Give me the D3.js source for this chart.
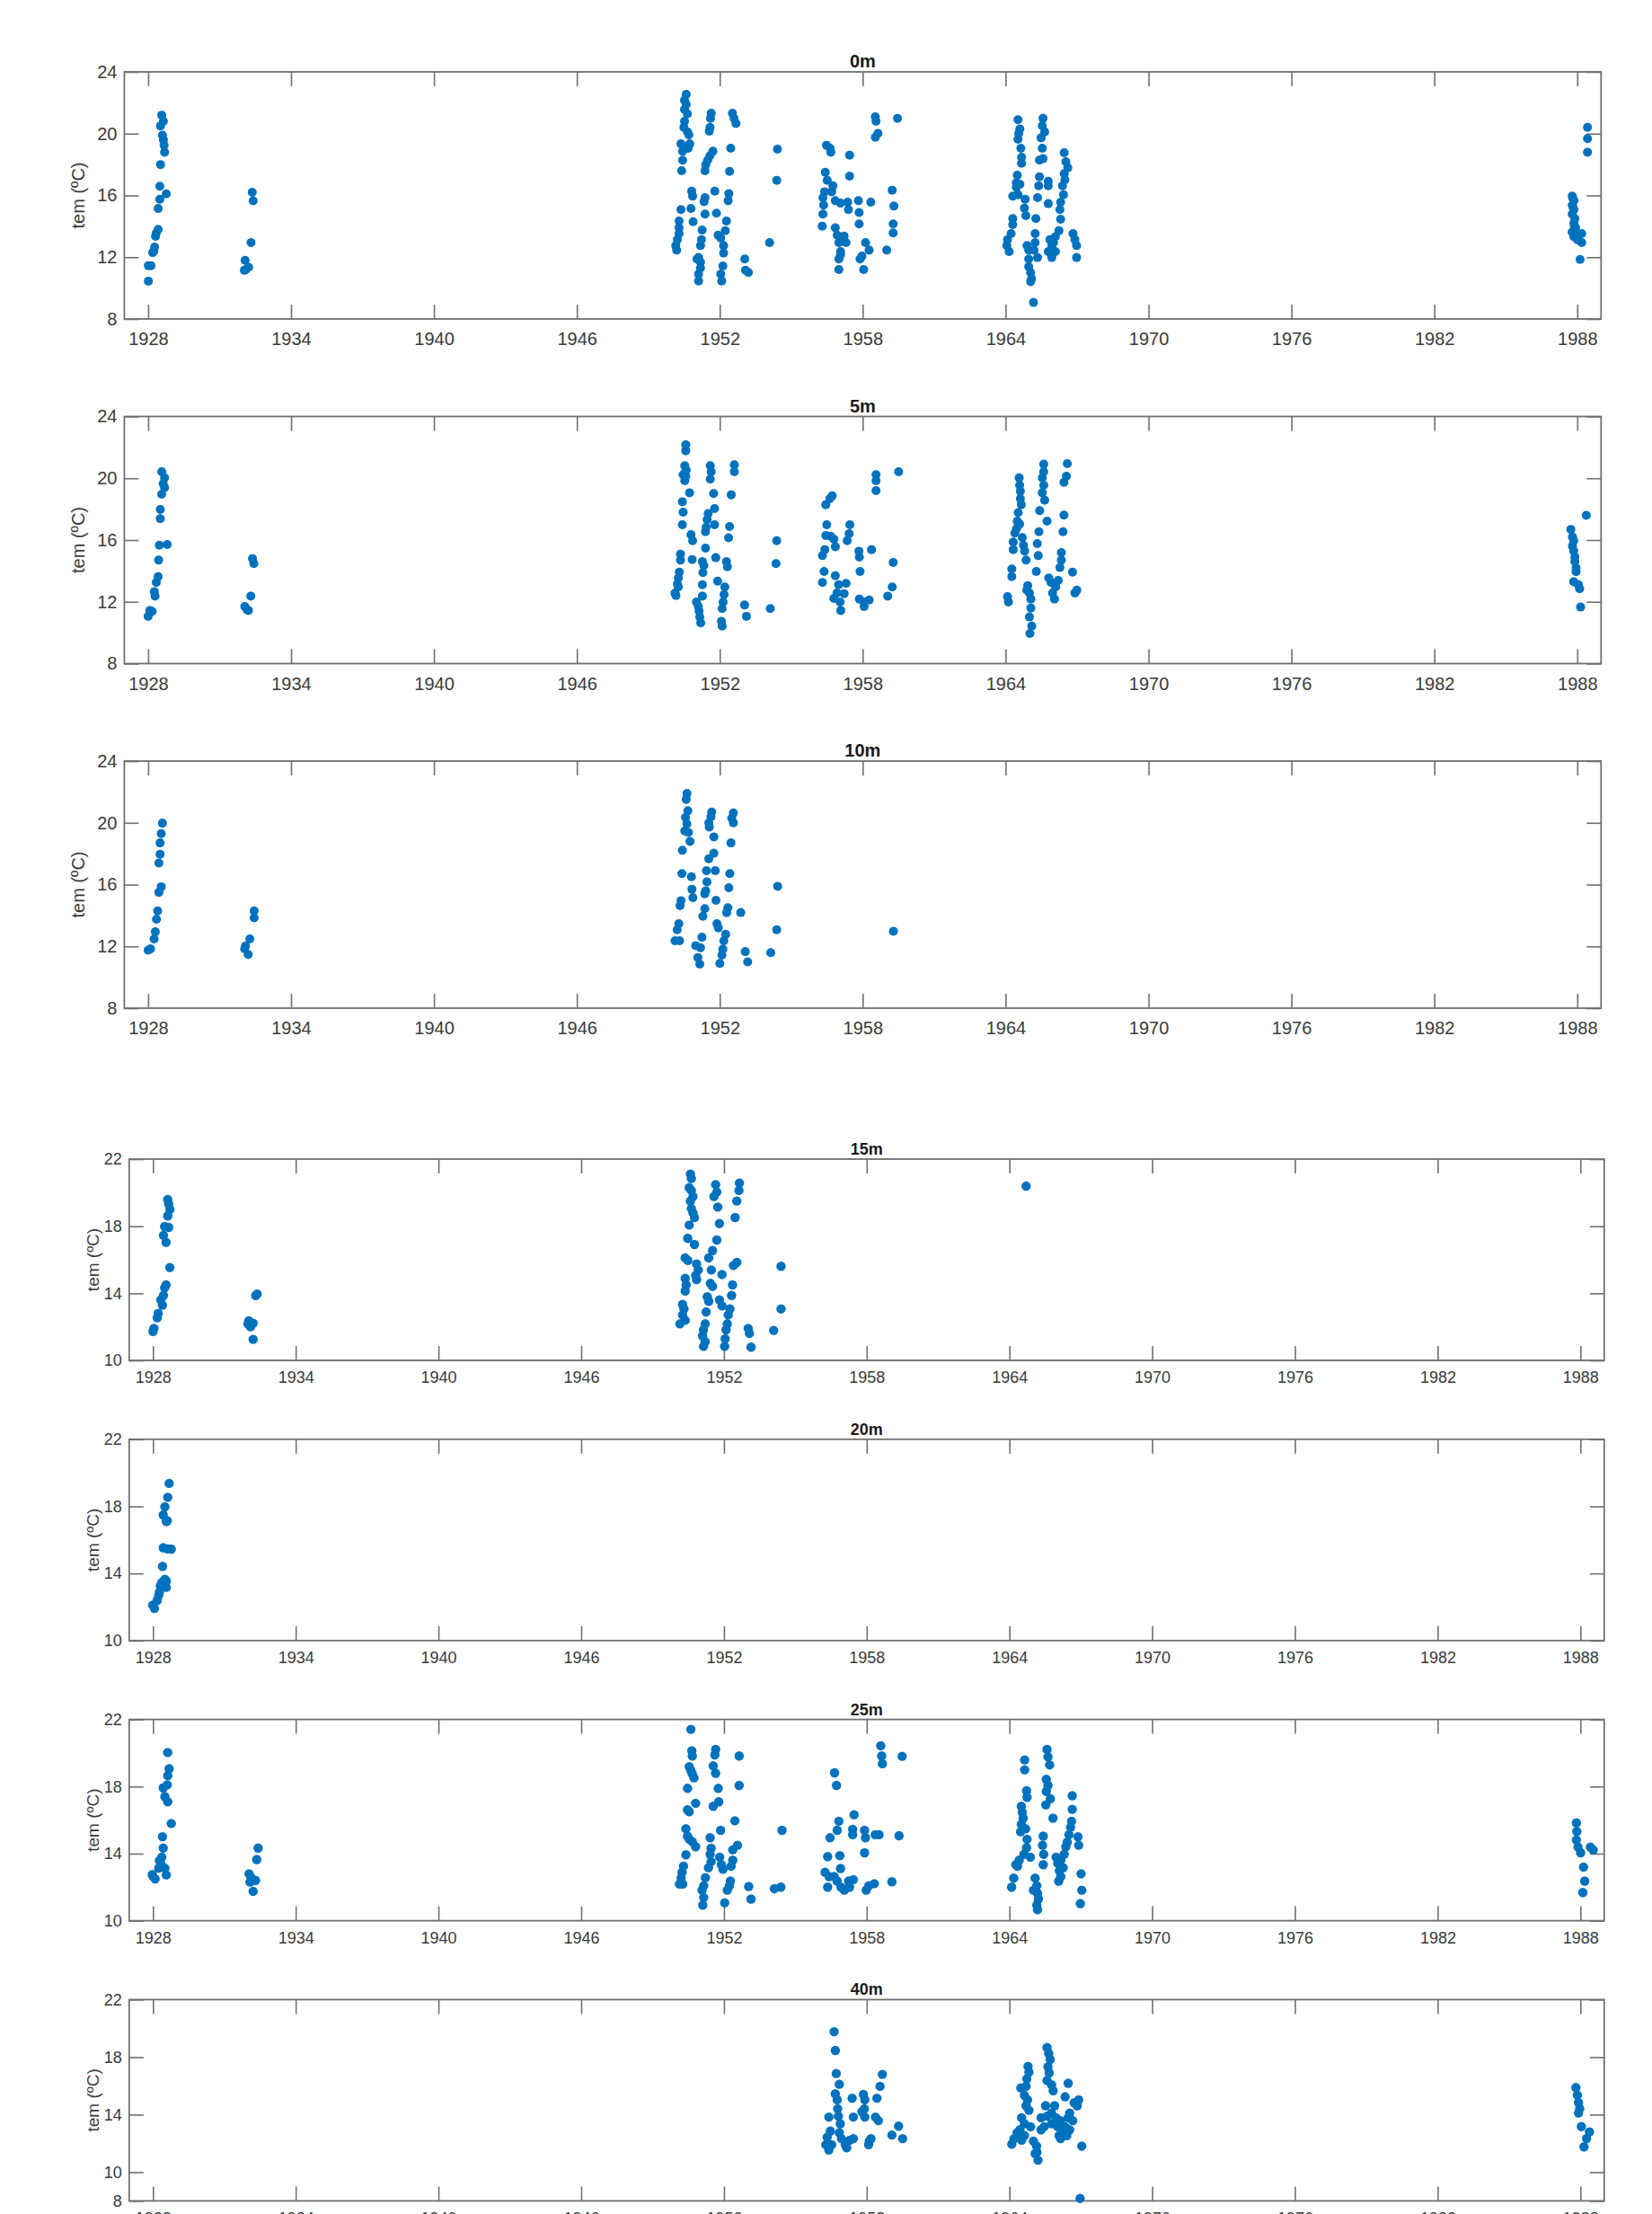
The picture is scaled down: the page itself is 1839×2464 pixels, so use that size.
<!DOCTYPE html>
<html>
<head>
<meta charset="utf-8">
<script src="https://cdn.jsdelivr.net/npm/d3@7"></script>
<style>
  body { margin: 0; background: #fff; }
  svg { display: block; }
</style>
</head>
<body>
<svg id="chart" width="1839" height="2464"></svg>
<script>
// tick labels
var yearTicks = [1928, 1934, 1940, 1946, 1952, 1958, 1964, 1970, 1976, 1982, 1988];
var yearRange = [1927, 1989];
var tempTicksUpper = [8, 12, 16, 20, 24];
var tempTicksLower = [10, 14, 18, 22];
var tempTicksDeep = [8, 10, 14, 18, 22];
var depths = ['0m', '5m', '10m', '15m', '20m', '25m', '40m'];

// [year, temperature] samples per depth
var t0m = [
  [1928.57,21.2],[1928.64,20.8],[1928.52,20.5],[1928.6,19.9],[1928.64,19.6],[1928.67,19.25],[1928.69,18.8],[1928.52,18.0],[1928.49,16.6],[1928.76,16.1],[1928.49,15.75],[1928.42,15.15],[1928.42,13.8],[1928.34,13.55],[1928.31,13.35],[1928.27,12.65],[1928.24,12.4],[1928.19,12.3],[1928.01,11.45],[1928.12,11.45],[1928.01,10.45],
  [1932.37,16.2],[1932.41,15.65],[1932.32,12.95],[1932.07,11.8],[1932.1,11.2],[1932.22,11.35],[1932.04,11.15],
  [1950.59,22.55],[1950.52,22.16],[1950.59,21.9],[1950.52,21.57],[1950.64,21.28],[1950.52,20.8],[1950.49,20.41],[1950.64,20.12],[1950.7,19.93],[1950.37,19.34],[1950.74,19.34],[1950.44,18.86],[1950.67,19.05],[1950.44,18.28],[1950.4,17.6],[1950.82,16.28],[1950.86,15.95],[1950.37,15.08],[1950.79,15.16],[1950.29,14.34],[1950.88,14.3],[1950.29,13.91],[1950.29,13.53],[1950.22,13.14],[1950.15,12.75],[1950.19,12.46],
  [1951.64,21.32],[1951.61,20.99],[1951.59,20.41],[1951.56,20.16],[1951.71,18.86],[1951.59,18.57],[1951.49,18.28],[1951.41,17.99],[1951.38,17.6],[1951.38,15.85],[1951.34,15.6],[1951.79,16.28],[1951.38,14.79],[1951.86,14.85],[1951.26,13.76],[1951.23,13.14],[1951.19,12.75],[1951.11,11.98],[1951.04,11.88],[1951.19,11.68],[1951.19,11.3],[1951.11,10.91],[1951.11,10.46],[1951.93,13.43],[1952.04,13.24],[1952.28,14.34],[1952.23,13.72],[1952.16,12.75],[1952.16,12.27],[1952.13,11.43],[1952.04,10.91],[1952.08,10.46],
  [1952.53,21.32],[1952.6,20.99],[1952.68,20.66],[1952.46,19.05],[1952.41,17.56],[1952.38,16.11],[1952.35,15.66],[1953.05,11.88],[1953.08,11.16],[1953.2,11.01],
  [1954.42,19.0],[1954.39,16.98],[1954.09,12.95],
  [1956.48,19.25],[1956.63,19.05],[1956.66,18.8],[1956.43,17.5],[1956.51,16.98],[1956.4,16.24],[1956.75,16.63],[1956.33,15.85],[1956.7,16.24],[1956.36,15.37],[1956.33,14.79],[1956.3,14.01],[1956.85,15.66],[1957.07,15.5],[1957.37,15.56],[1957.4,15.08],[1957.45,18.61],[1957.45,17.25],[1956.85,13.91],[1956.93,13.43],[1957.0,12.95],[1957.22,13.37],[1957.3,12.95],[1957.07,12.36],[1957.0,11.88],[1957.07,12.17],[1957.0,11.2],
  [1957.82,15.66],[1958.34,15.56],[1957.85,14.89],[1957.85,14.15],[1958.12,12.95],[1958.27,12.46],[1957.97,12.07],[1957.89,11.88],[1958.04,11.2],
  [1958.53,21.09],[1958.56,20.8],[1958.64,20.02],[1958.53,19.77],[1959.46,20.99],[1959.24,16.34],[1959.31,15.31],[1959.28,14.15],[1959.28,13.57],[1959.01,12.46],
  [1964.52,20.9],[1964.6,20.31],[1964.55,20.02],[1964.52,19.64],[1964.64,19.05],[1964.67,18.47],[1964.67,18.08],[1964.49,17.31],[1964.45,16.83],[1964.6,16.73],[1964.45,16.53],[1964.52,16.05],[1964.3,15.95],[1964.82,15.76],[1964.79,15.18],[1964.85,14.69],[1964.3,14.5],[1964.3,14.11],[1964.23,13.53],[1964.08,13.14],[1964.05,12.75],[1964.15,12.36],[1964.9,12.75],[1964.97,12.46],[1965.19,12.46],[1964.97,11.88],[1964.97,11.39],[1965.05,11.01],[1965.09,10.62],[1965.05,10.42],[1965.17,9.07],[1965.27,14.5],[1965.24,13.53],
  [1965.57,20.99],[1965.54,20.51],[1965.64,20.12],[1965.49,19.73],[1965.54,19.05],[1965.57,18.38],[1965.42,18.28],[1965.42,17.21],[1965.79,16.92],[1965.79,16.63],[1965.39,16.63],[1965.34,15.85],[1965.79,15.47],[1965.24,12.95],[1965.34,11.98],
  [1966.46,18.76],[1966.53,18.18],[1966.61,17.79],[1966.46,17.41],[1966.49,17.02],[1966.39,16.63],[1966.43,16.05],[1966.31,15.56],[1966.28,15.08],[1966.31,14.46],[1966.24,13.72],[1966.09,13.33],[1966.01,12.95],[1965.94,12.75],[1965.86,13.14],[1965.94,11.98],[1966.09,12.36],[1965.79,12.36],[1966.83,13.53],[1966.91,13.14],[1966.98,12.75],[1966.98,11.98],
  [1988.43,20.41],[1988.43,19.68],[1988.43,18.8],[1987.79,15.95],[1987.82,15.8],[1987.86,15.66],[1987.79,15.37],[1987.83,15.2],[1987.86,15.08],[1987.79,14.79],[1987.9,14.5],[1987.86,14.21],[1987.88,14.0],[1987.93,13.92],[1987.79,13.63],[1988.19,13.53],[1988.0,13.4],[1987.86,13.33],[1988.01,13.14],[1988.19,12.95],[1988.12,11.85]
];

var t5m = [
  [1928.57,20.42],[1928.69,20.03],[1928.63,19.65],[1928.69,19.39],[1928.57,18.97],[1928.51,17.98],[1928.51,17.38],[1928.47,15.67],[1928.8,15.71],[1928.44,14.7],[1928.42,13.63],[1928.34,13.25],[1928.26,12.66],[1928.29,12.37],[1928.07,11.44],[1928.0,11.05],[1928.17,11.37],
  [1932.38,14.8],[1932.44,14.47],[1932.31,12.37],[1932.06,11.69],[1932.15,11.5],[1932.21,11.44],
  [1950.57,22.17],[1950.57,21.78],[1950.53,20.81],[1950.59,20.52],[1950.46,20.23],[1950.57,20.13],[1950.53,19.84],[1950.73,19.06],[1950.43,18.48],[1950.46,17.8],[1950.43,16.99],[1950.79,16.35],[1950.86,15.96],[1950.35,15.09],[1950.35,14.7],[1950.84,14.74],[1950.3,13.92],[1950.26,13.54],[1950.22,13.15],[1950.26,12.96],[1950.12,12.57],[1950.16,12.41],
  [1951.6,20.81],[1951.64,20.42],[1951.6,19.94],[1951.74,19.01],[1951.78,18.04],[1951.51,17.71],[1951.47,17.32],[1951.43,16.83],[1951.4,16.54],[1951.78,16.99],[1951.4,15.48],[1951.27,14.6],[1951.33,14.35],[1951.29,13.89],[1951.83,14.86],[1951.27,13.11],[1951.27,12.37],[1951.02,11.99],[1951.1,11.69],[1951.13,11.4],[1951.16,11.02],[1951.2,10.63],
  [1951.91,13.34],[1952.21,12.96],[1952.18,12.47],[1952.14,11.99],[1952.1,11.56],[1952.07,10.73],[1952.1,10.43],[1952.28,14.6],[1952.32,14.27],[1952.41,16.87],[1952.37,16.15],[1952.48,18.93],[1952.61,20.87],[1952.61,20.42],[1953.04,11.79],[1953.12,11.06],
  [1954.12,11.56],[1954.39,15.96],[1954.36,14.47],
  [1956.72,18.87],[1956.62,18.68],[1956.45,18.29],[1956.49,16.99],[1956.45,16.29],[1956.65,16.25],[1956.79,16.06],[1956.85,15.57],[1956.41,15.38],[1956.31,14.99],[1957.46,16.99],[1957.43,16.41],[1957.35,15.96],[1957.84,15.28],[1957.86,14.89],[1958.37,15.38],[1956.38,13.96],[1957.89,13.96],[1956.31,13.25],[1956.85,13.69],[1956.99,13.11],[1957.3,13.19],[1956.92,12.57],[1956.79,12.22],[1957.22,12.53],[1957.05,11.99],[1957.08,11.44],[1957.86,12.18],[1958.06,11.99],[1958.27,12.12],[1958.06,11.69],
  [1959.28,14.55],[1959.24,12.96],[1959.05,12.37],[1958.56,20.23],[1958.56,19.84],[1958.56,19.2],[1959.51,20.42],
  [1964.57,20.03],[1964.59,19.55],[1964.62,19.16],[1964.62,18.68],[1964.66,18.29],[1964.53,17.77],[1964.49,17.22],[1964.46,16.74],[1964.39,16.45],[1964.59,17.03],[1964.7,16.16],[1964.75,15.67],[1964.8,15.28],[1964.86,14.7],[1964.32,15.87],[1964.32,15.38],[1964.26,14.12],[1964.26,13.63],[1964.08,12.33],[1964.12,11.99],
  [1964.93,13.05],[1965.0,12.57],[1965.06,12.18],[1965.06,11.6],[1965.0,11.02],[1965.1,10.43],[1965.02,9.95],[1964.89,12.76],
  [1965.6,20.91],[1965.6,20.42],[1965.54,20.03],[1965.6,19.55],[1965.54,19.06],[1965.64,18.58],[1965.43,17.9],[1965.74,17.22],[1965.4,16.54],[1965.33,15.77],[1965.37,14.99],[1965.29,13.96],[1965.81,13.54],[1965.91,13.25],[1965.97,12.57],[1966.05,12.18],[1966.1,12.96],[1966.21,13.38],
  [1966.28,14.22],[1966.34,14.7],[1966.34,15.19],[1966.41,16.54],[1966.45,17.61],[1966.45,19.74],[1966.55,20.13],[1966.59,20.95],[1966.81,13.92],[1966.91,12.57],[1966.99,12.76],
  [1987.73,16.69],[1987.8,16.2],[1987.85,15.96],[1987.8,15.6],[1987.85,15.3],[1987.9,14.9],[1987.9,14.6],[1987.95,14.2],[1987.95,13.95],[1987.85,13.3],[1988.05,13.1],[1988.1,12.85],[1988.14,11.66],[1988.38,17.6]
];

var t10m = [
  [1928.6,19.98],[1928.55,19.3],[1928.5,18.7],[1928.5,17.97],[1928.45,17.4],[1928.55,15.86],[1928.45,15.5],[1928.4,14.3],[1928.35,13.76],[1928.3,12.94],[1928.25,12.48],[1928.1,11.84],[1928.0,11.75],
  [1932.45,14.3],[1932.45,13.85],[1932.27,12.48],[1932.09,12.03],[1932.2,11.48],[1932.05,11.84],
  [1950.62,21.9],[1950.59,21.52],[1950.66,20.78],[1950.56,20.35],[1950.62,19.93],[1950.53,19.48],[1950.68,19.38],[1950.75,18.8],[1950.43,18.22],[1950.41,16.71],[1950.81,16.51],[1950.83,15.7],[1950.87,15.16],[1950.37,14.96],[1950.33,14.63],[1950.28,13.47],[1950.21,13.08],[1950.12,12.36],[1950.31,12.36],
  [1951.66,20.7],[1951.63,20.39],[1951.54,20.0],[1951.56,19.73],[1951.75,19.09],[1951.75,18.03],[1951.54,17.68],[1951.44,16.9],[1951.81,16.9],[1951.46,16.18],[1951.41,15.6],[1951.37,15.41],[1951.84,14.98],[1951.37,14.44],[1951.29,13.95],[1951.88,13.47],[1951.94,13.2],[1951.25,12.59],[1950.99,12.05],[1951.19,11.92],[1951.08,11.28],[1951.16,10.85],
  [1952.25,12.79],[1952.17,12.36],[1952.13,11.82],[1952.09,11.43],[1952.0,10.89],[1952.57,20.64],[1952.5,20.31],[1952.57,20.0],[1952.47,18.7],[1952.42,16.71],[1952.38,15.8],[1952.34,14.5],[1952.29,14.19],[1952.88,14.19],[1953.07,11.66],[1953.17,11.0],
  [1954.14,11.59],[1954.43,15.89],[1954.39,13.08],[1959.29,12.98]
];

var t15m = [
  [1928.62,19.59],[1928.66,19.32],[1928.71,19.0],[1928.62,18.61],[1928.49,17.98],[1928.66,17.93],[1928.44,17.45],[1928.55,17.04],[1928.71,15.54],[1928.55,14.5],[1928.49,14.32],[1928.44,13.87],[1928.33,13.61],[1928.4,13.29],[1928.22,12.8],[1928.18,12.54],[1928.04,11.91],[1928.0,11.73],
  [1932.38,13.96],[1932.32,13.87],[1932.03,12.36],[1932.21,12.21],[1932.1,12.0],[1932.21,11.25],[1931.99,12.18],
  [1950.59,21.11],[1950.63,20.84],[1950.54,20.3],[1950.63,20.13],[1950.7,19.77],[1950.59,19.5],[1950.63,19.05],[1950.7,18.79],[1950.76,18.52],[1950.54,18.07],[1950.48,17.27],[1950.76,16.91],[1950.37,16.11],[1950.48,15.96],[1950.37,14.89],[1950.41,14.5],[1950.37,14.14],[1950.26,13.34],[1950.32,13.07],[1950.26,12.71],[1950.37,12.39],[1950.15,12.18],[1950.85,15.75],[1950.92,15.39],[1950.81,15.07],[1950.85,14.82],
  [1951.65,20.48],[1951.7,20.04],[1951.58,19.77],[1951.74,19.14],[1951.81,18.16],[1951.7,17.18],[1951.52,16.55],[1951.36,16.11],[1951.47,15.39],[1951.43,14.59],[1951.52,14.41],[1951.3,13.79],[1951.36,13.52],[1951.25,12.89],[1951.21,12.18],[1951.14,11.82],[1951.1,11.46],[1951.21,11.11],[1951.14,10.84],[1951.92,15.12],[1951.81,13.61],[1951.92,13.25],
  [1952.65,20.57],[1952.63,20.13],[1952.54,19.5],[1952.47,18.52],[1952.54,15.84],[1952.4,15.66],[1952.36,14.5],[1952.32,13.87],[1952.25,13.07],[1952.18,12.71],[1952.14,12.18],[1952.09,11.82],[1952.05,11.29],[1952.03,10.84],
  [1953.02,11.91],[1953.07,11.61],[1953.14,10.79],[1954.09,11.79],[1954.4,15.61],[1954.4,13.07],[1964.7,20.39]
];

var t20m = [
  [1928.68,19.37],[1928.62,18.54],[1928.5,17.97],[1928.43,17.49],[1928.6,17.14],[1928.56,17.1],[1928.43,15.53],[1928.6,15.47],[1928.77,15.45],[1928.4,14.42],[1928.37,13.46],[1928.5,13.65],[1928.56,13.17],[1928.43,13.36],[1928.31,13.26],[1928.27,12.88],[1928.24,12.69],[1928.18,12.4],[1927.99,12.11],[1928.06,11.92],[1928.56,13.55]
];

var t25m = [
  [1928.62,20.03],[1928.68,19.06],[1928.62,18.65],[1928.43,17.92],[1928.6,18.1],[1928.5,17.4],[1928.62,17.09],[1928.77,15.8],[1928.4,15.01],[1928.43,14.33],[1928.37,13.78],[1928.27,13.59],[1928.35,13.35],[1928.5,13.13],[1928.56,12.73],[1928.24,13.13],[1927.99,12.67],[1928.09,12.49],[1927.97,12.76],
  [1932.42,14.33],[1932.36,13.65],[1932.04,12.8],[1932.08,12.3],[1932.21,11.75],[1932.31,12.4],[1932.12,12.58],
  [1950.61,21.41],[1950.65,20.13],[1950.67,19.82],[1950.54,19.18],[1950.61,18.96],[1950.67,18.75],[1950.74,18.52],[1950.47,17.89],[1950.81,17.0],[1950.47,16.61],[1950.54,16.5],[1950.4,15.48],[1950.47,15.04],[1950.54,14.86],[1950.67,14.71],[1950.81,14.41],[1950.4,13.93],[1950.3,13.25],[1950.24,12.89],[1950.2,12.54],[1950.13,12.18],[1950.27,12.18],
  [1951.65,20.21],[1951.62,19.89],[1951.55,19.23],[1951.65,18.79],[1951.76,17.89],[1951.55,16.82],[1951.78,17.09],[1951.86,15.39],[1951.42,14.95],[1951.46,14.32],[1951.42,13.96],[1951.46,13.52],[1951.35,13.16],[1951.15,12.09],[1951.22,12.57],[1951.08,11.82],[1951.15,11.38],[1951.11,10.93],[1951.82,13.79],[1951.89,13.34],[1951.96,13.07],
  [1952.64,19.82],[1952.64,18.07],[1952.46,15.96],[1952.57,14.5],[1952.37,14.23],[1952.37,13.61],[1952.3,13.25],[1952.27,12.36],[1952.23,12.09],[1952.14,11.82],[1952.03,11.07],
  [1953.04,12.04],[1953.14,11.29],[1954.12,11.91],[1954.39,12.0],[1954.44,15.39],
  [1956.65,18.82],[1956.73,18.07],[1957.47,16.32],[1956.83,15.93],[1956.76,15.39],[1956.46,14.95],[1956.36,13.82],[1956.87,13.88],[1956.9,13.11],[1956.25,12.89],[1956.42,12.63],[1956.36,12.0],[1956.63,12.63],[1956.76,12.36],[1956.92,12.0],[1957.06,11.82],[1957.24,12.36],[1957.44,12.45],[1957.28,12.0],[1957.41,15.45],[1957.41,15.13],[1957.91,15.39],[1957.95,14.95],[1958.36,15.13],[1958.52,15.13],[1957.91,14.05],[1957.98,11.82],[1958.09,12.09],[1958.32,12.21],[1959.06,12.32],[1959.36,15.07],
  [1958.59,20.43],[1958.63,19.82],[1958.66,19.36],[1959.49,19.8],
  [1964.64,19.59],[1964.64,19.0],[1964.72,17.75],[1964.74,17.36],[1964.5,16.82],[1964.54,16.46],[1964.58,16.11],[1964.5,15.75],[1964.47,15.3],[1964.68,15.48],[1964.74,14.86],[1964.72,14.36],[1964.61,13.96],[1964.41,13.61],[1964.34,13.25],[1964.18,12.54],[1964.09,12.0],[1964.27,13.34],[1964.88,13.79],
  [1965.08,12.54],[1965.15,12.09],[1965.18,11.64],[1965.22,11.29],[1965.15,10.93],[1965.18,10.66],[1965.01,11.82],[1965.42,15.04],[1965.39,14.5],
  [1965.58,20.21],[1965.62,19.77],[1965.69,19.29],[1965.55,18.43],[1965.62,18.07],[1965.55,17.71],[1965.72,17.27],[1965.53,16.91],[1965.83,16.11],[1965.44,13.96],[1965.42,13.34],
  [1965.96,13.79],[1966.03,13.43],[1966.1,12.98],[1966.16,12.63],[1966.07,12.36],[1966.3,13.96],[1966.37,14.41],[1966.43,14.68],[1966.5,15.13],[1966.57,15.57],[1966.61,15.93],[1966.64,16.64],[1966.64,17.45],[1966.88,15.0],[1966.91,14.5],[1967.01,12.8],[1967.04,11.82],[1966.98,11.02],[1966.16,13.61],[1966.26,13.16],
  [1987.83,15.83],[1987.85,15.32],[1987.83,14.81],[1987.9,14.39],[1988.01,14.05],[1988.42,14.39],[1988.54,14.22],[1988.13,13.2],[1988.18,12.36],[1988.1,11.68]
];

var t40m = [
  [1956.63,19.77],[1956.68,18.46],[1956.72,16.86],[1956.85,16.11],[1956.68,15.45],[1956.76,15.03],[1956.78,14.41],[1956.81,13.89],[1956.41,13.83],[1956.89,13.37],[1956.47,12.85],[1956.34,12.43],[1956.28,11.91],[1956.41,11.54],[1956.53,11.91],[1956.85,12.74],[1956.94,12.33],[1957.1,11.91],[1957.16,11.7],[1957.29,12.22],[1957.44,12.33],[1957.39,15.14],[1957.44,13.83],
  [1957.86,15.41],[1957.92,15.03],[1957.9,14.41],[1957.92,13.83],[1957.8,14.2],[1958.11,12.16],[1958.08,11.91],[1958.18,12.33],[1958.37,13.83],[1958.49,13.58],[1958.43,15.14],[1958.56,15.97],[1958.66,16.8],[1959.06,12.58],[1959.34,13.2],[1959.51,12.33],
  [1965.58,18.67],[1965.65,18.26],[1965.71,17.84],[1965.62,17.32],[1965.67,16.9],[1965.58,16.38],[1965.77,16.07],[1965.84,15.66],[1964.78,17.36],[1964.82,16.95],[1964.73,16.49],[1964.7,15.97],[1964.48,15.86],[1964.63,15.34],[1964.76,15.03],[1964.7,14.62],[1964.82,14.3],[1964.51,13.78],[1964.63,13.37],[1964.44,12.95],[1964.32,12.74],[1964.19,12.33],[1964.1,11.95],[1964.51,12.22],[1964.63,12.54],
  [1964.89,13.16],[1965.01,12.16],[1965.14,11.81],[1965.16,11.39],[1965.2,10.83],[1965.08,11.29],[1965.33,12.95],[1965.46,13.16],[1965.52,14.62],[1965.58,13.89],[1965.77,14.1],[1965.96,13.78],[1966.03,13.16],[1966.09,12.54],[1966.15,12.33],[1966.28,12.74],[1966.34,13.16],[1966.47,13.78],[1966.53,14.1],[1966.47,16.18],[1966.34,15.24],[1966.72,14.82],[1966.91,15.03],[1966.85,14.62],[1966.66,13.58],[1966.53,12.95],[1966.41,12.54],[1967.04,11.81],[1966.97,8.17],[1965.9,14.62],[1966.15,13.58],[1965.33,13.78],[1965.77,13.37],
  [1987.81,15.88],[1987.87,15.36],[1987.92,14.84],[1987.97,14.42],[1987.92,14.11],[1988.04,13.17],[1988.38,12.8],[1988.26,12.34],[1988.15,11.76]
];

var series = [t0m, t5m, t10m, t15m, t20m, t25m, t40m];

// layout: the picture is two figures stacked (0-10m and 15-40m)
var upper = { left: 138.4, right: 1782.3, height: 275, font: 20, labelFont: 20, labelX: 87, pad: 15, r: 5 };
var lower = { left: 143.8, right: 1785.8, height: 224, font: 18, labelFont: 19, labelX: 103, pad: 12.5, r: 5.2 };
var panels = [
  { frame: upper, top: 80,     yDomain: [8, 24],  yTicks: tempTicksUpper },
  { frame: upper, top: 463.5,  yDomain: [8, 24],  yTicks: tempTicksUpper },
  { frame: upper, top: 847,    yDomain: [8, 24],  yTicks: tempTicksUpper },
  { frame: lower, top: 1290,   yDomain: [10, 22], yTicks: tempTicksLower },
  { frame: lower, top: 1601.8, yDomain: [10, 22], yTicks: tempTicksLower },
  { frame: lower, top: 1913.6, yDomain: [10, 22], yTicks: tempTicksLower },
  { frame: lower, top: 2225.4, yDomain: [8, 22],  yTicks: tempTicksDeep }
];

var svg = d3.select('#chart'),
    axisColor = '#707070',
    textColor = '#3a3a3a',
    dotColor = '#0072BD',
    tickLen = 16;

svg.append('rect').attr('width', 1839).attr('height', 2464).attr('fill', '#fff');

panels.forEach(function(p, i) {
  var f = p.frame,
      bottom = p.top + f.height,
      x = d3.scaleLinear().domain(yearRange).range([f.left, f.right]),
      y = d3.scaleLinear().domain(p.yDomain).range([bottom, p.top]),
      g = svg.append('g').attr('class', 'panel');

  // mirrored inward ticks, MATLAB style
  var axB = g.append('g').attr('transform', 'translate(0,' + bottom + ')')
    .call(d3.axisBottom(x).tickValues(yearTicks).tickFormat(d3.format('d'))
      .tickSizeInner(-tickLen).tickSizeOuter(0).tickPadding(f.pad));
  var axT = g.append('g').attr('transform', 'translate(0,' + p.top + ')')
    .call(d3.axisTop(x).tickValues(yearTicks).tickFormat('')
      .tickSizeInner(-tickLen).tickSizeOuter(0));
  var axL = g.append('g').attr('transform', 'translate(' + f.left + ',0)')
    .call(d3.axisLeft(y).tickValues(p.yTicks).tickFormat(d3.format('d'))
      .tickSizeInner(-tickLen).tickSizeOuter(0).tickPadding(8));
  var axR = g.append('g').attr('transform', 'translate(' + f.right + ',0)')
    .call(d3.axisRight(y).tickValues(p.yTicks).tickFormat('')
      .tickSizeInner(-tickLen).tickSizeOuter(0));

  [axB, axT, axL, axR].forEach(function(a) {
    a.select('.domain').remove();
    a.selectAll('.tick line').attr('stroke', axisColor).attr('stroke-width', 1.6);
    a.selectAll('.tick text')
      .attr('fill', textColor)
      .style('font-family', '"Liberation Sans", Arial, sans-serif')
      .style('font-size', f.font + 'px');
  });

  g.append('rect')
    .attr('x', f.left).attr('y', p.top)
    .attr('width', f.right - f.left).attr('height', f.height)
    .attr('fill', 'none').attr('stroke', axisColor).attr('stroke-width', 1.8);

  g.append('g').selectAll('circle')
    .data(series[i])
    .enter().append('circle')
    .attr('cx', function(d) { return x(d[0]); })
    .attr('cy', function(d) { return y(d[1]); })
    .attr('r', f.r)
    .attr('fill', dotColor);

  g.append('text')
    .attr('x', (f.left + f.right) / 2).attr('y', p.top - 5)
    .attr('text-anchor', 'middle')
    .style('font-family', '"Liberation Sans", Arial, sans-serif')
    .style('font-size', f.font + 'px').style('font-weight', 'bold')
    .attr('fill', '#1a1a1a')
    .text(depths[i]);

  g.append('text')
    .attr('transform', 'translate(' + f.labelX + ',' + (p.top + f.height / 2) + ') rotate(-90)')
    .attr('text-anchor', 'middle').attr('dominant-baseline', 'central')
    .style('font-family', '"Liberation Sans", Arial, sans-serif')
    .style('font-size', f.labelFont + 'px')
    .attr('fill', textColor)
    .text('tem (\u00baC)');
}); // end of panels
</script>
</body>
</html>
